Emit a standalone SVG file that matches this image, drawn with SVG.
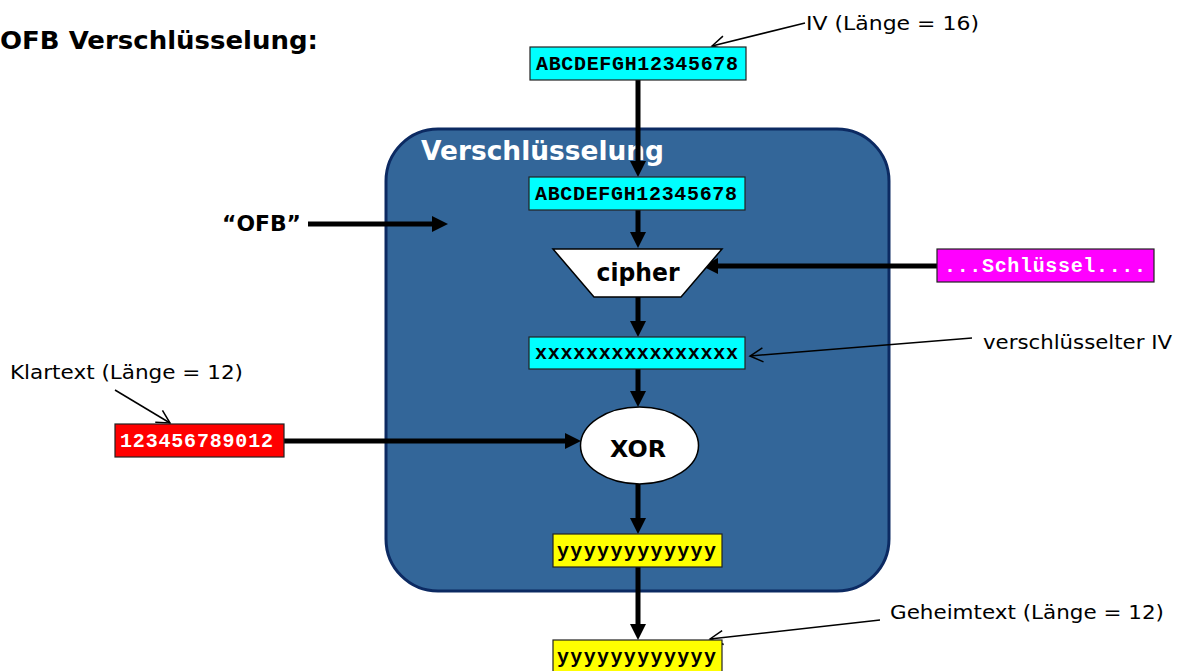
<svg xmlns="http://www.w3.org/2000/svg" width="1178" height="671" viewBox="0 0 1178 671">
<defs>
<style>
.lbl{font-family:"DejaVu Sans","Liberation Sans",sans-serif;font-size:20px;fill:#000}
.bold{font-family:"DejaVu Sans","Liberation Sans",sans-serif;font-weight:bold}
.mono{font-family:"Liberation Mono","Courier New",monospace;font-weight:bold;font-size:20px}
.box{stroke:#222;stroke-width:1.2}
.flow{stroke:#000;stroke-width:5;fill:none}
.lead{stroke:#000;stroke-width:1.5;fill:none}
</style>
<marker id="ah" markerUnits="userSpaceOnUse" markerWidth="17" markerHeight="16" refX="0" refY="8" orient="auto">
<path d="M0,0 L16,8 L0,16 z" fill="#000"/>
</marker>
<marker id="oh" markerUnits="userSpaceOnUse" markerWidth="16" markerHeight="16" refX="14" refY="8" orient="auto">
<path d="M1,1 L14,8 L1,15" fill="none" stroke="#000" stroke-width="1.5"/>
</marker>
</defs>
<rect width="1178" height="671" fill="#fff"/>
<text class="bold" x="0" y="49" font-size="24" textLength="318" lengthAdjust="spacingAndGlyphs">OFB Verschlüsselung:</text>

<g id="container">
<rect x="386" y="129" width="503" height="462" rx="52" ry="52" fill="#336699" stroke="#0c2a62" stroke-width="3"/>
<text class="bold" x="421" y="160" font-size="27" fill="#fff" textLength="243" lengthAdjust="spacingAndGlyphs">Verschlüsselung</text>
</g>

<g id="connectors">
<line class="flow" x1="638" y1="80" x2="638" y2="161" marker-end="url(#ah)"/>
<line class="flow" x1="638" y1="210" x2="638" y2="232" marker-end="url(#ah)"/>
<line class="flow" x1="937" y1="266" x2="718" y2="266" marker-end="url(#ah)"/>
<line class="flow" x1="308" y1="224" x2="432" y2="224" marker-end="url(#ah)"/>
<line class="flow" x1="638" y1="297" x2="638" y2="321" marker-end="url(#ah)"/>
<line class="flow" x1="638" y1="369" x2="638" y2="391" marker-end="url(#ah)"/>
<line class="flow" x1="284" y1="441" x2="565" y2="441" marker-end="url(#ah)"/>
<line class="flow" x1="638" y1="484" x2="638" y2="518" marker-end="url(#ah)"/>
<line class="flow" x1="638" y1="567" x2="638" y2="624" marker-end="url(#ah)"/>
<line class="lead" x1="805" y1="23" x2="712" y2="46" marker-end="url(#oh)"/>
<line class="lead" x1="972" y1="338" x2="750" y2="356" marker-end="url(#oh)"/>
<line class="lead" x1="115" y1="390" x2="170" y2="423" marker-end="url(#oh)"/>
<line class="lead" x1="880" y1="620" x2="710" y2="639" marker-end="url(#oh)"/>
</g>

<g id="iv">
<rect class="box" x="530" y="47" width="216" height="33" fill="#00ffff"/>
<text class="mono" x="536" y="70" textLength="202" lengthAdjust="spacing">ABCDEFGH12345678</text>
</g>
<text id="iv-label" class="lbl" x="806" y="30" textLength="173" lengthAdjust="spacingAndGlyphs">IV (Länge = 16)</text>

<g id="iv2">
<rect class="box" x="529" y="177" width="216" height="33" fill="#00ffff"/>
<text class="mono" x="535" y="200" textLength="202" lengthAdjust="spacing">ABCDEFGH12345678</text>
</g>

<g id="cipher">
<polygon points="553,249 722,249 681,297 594,297" fill="#fff" stroke="#000" stroke-width="1.5"/>
<text class="bold" x="638" y="281" font-size="25" text-anchor="middle" textLength="83" lengthAdjust="spacingAndGlyphs">cipher</text>
</g>

<g id="key">
<rect class="box" x="937" y="249" width="217" height="33" fill="#ff00ff"/>
<text class="mono" x="944" y="272" fill="#fff" textLength="202" lengthAdjust="spacing">...Schlüssel....</text>
</g>

<g id="ofb">
<text class="bold" x="222" y="231" font-size="22" textLength="79" lengthAdjust="spacingAndGlyphs">“OFB”</text>
</g>

<g id="enc-iv">
<rect class="box" x="529" y="337" width="216" height="32" fill="#00ffff"/>
<text class="mono" x="535" y="359" textLength="203" lengthAdjust="spacing">xxxxxxxxxxxxxxxx</text>
</g>
<text id="enc-iv-label" class="lbl" x="983" y="349" textLength="189" lengthAdjust="spacingAndGlyphs">verschlüsselter IV</text>

<g id="xor">
<ellipse cx="639.5" cy="445.5" rx="59" ry="38.5" fill="#fff" stroke="#000" stroke-width="1.5"/>
<text class="bold" x="638" y="457" font-size="23" text-anchor="middle" textLength="56" lengthAdjust="spacingAndGlyphs">XOR</text>
</g>

<g id="plain">
<rect class="box" x="115" y="424" width="169" height="33" fill="#ff0000"/>
<text class="mono" x="120" y="447" fill="#fff" textLength="153" lengthAdjust="spacing">123456789012</text>
</g>
<text id="plain-label" class="lbl" x="10" y="379" textLength="233" lengthAdjust="spacingAndGlyphs">Klartext (Länge = 12)</text>

<g id="out1">
<rect class="box" x="553" y="534" width="169" height="33" fill="#ffff00"/>
<text class="mono" x="557" y="557" textLength="159" lengthAdjust="spacing">yyyyyyyyyyyy</text>
</g>

<g id="out2">
<rect class="box" x="553" y="640" width="169" height="33" fill="#ffff00"/>
<text class="mono" x="557" y="663" textLength="159" lengthAdjust="spacing">yyyyyyyyyyyy</text>
</g>
<text id="out-label" class="lbl" x="890" y="619" textLength="274" lengthAdjust="spacingAndGlyphs">Geheimtext (Länge = 12)</text>
</svg>
